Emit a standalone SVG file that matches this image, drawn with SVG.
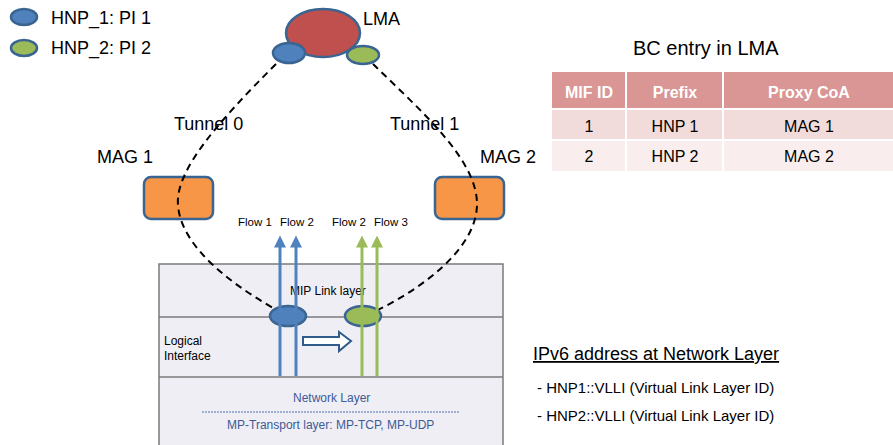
<svg xmlns="http://www.w3.org/2000/svg" width="893" height="445" viewBox="0 0 893 445">
<style>
text{font-family:"Liberation Sans",Arial,sans-serif;fill:#000}
.pi{stroke:#3a6592;stroke-width:2.5}
.blue{fill:#4f81bd}
.green{fill:#9bbb59}
.mag{fill:#f79646;stroke:#3a6592;stroke-width:2.5}
.tun{fill:none;stroke:#000;stroke-width:2;stroke-dasharray:7 5}
.lbl{font-size:18px}
.flow{font-size:11.5px}
.layer{fill:#f0eef5;stroke:#7a7a7a;stroke-width:1.5}
.ln{stroke:#7a7a7a;stroke-width:1.5}
.small{font-size:12px}
.blt{font-size:12px;fill:#3d5a95}
.th{font-size:16px;font-weight:bold;fill:#fff}
.td{font-size:16px}
</style>
<defs>
<marker id="ab" markerWidth="4" markerHeight="4" refX="2.5" refY="2" orient="auto" markerUnits="strokeWidth"><path d="M0,0 L4,2 L0,4 z" fill="#4f81bd"/></marker>
<marker id="ag" markerWidth="4" markerHeight="4" refX="2.5" refY="2" orient="auto" markerUnits="strokeWidth"><path d="M0,0 L4,2 L0,4 z" fill="#9bbb59"/></marker>
</defs>

<g id="legend">
<ellipse class="pi blue" cx="24" cy="17" rx="13" ry="8"/>
<text x="51" y="24" class="lbl" font-size="17">HNP_1: PI 1</text>
<ellipse class="pi green" cx="24" cy="48" rx="13" ry="8"/>
<text x="51" y="54" class="lbl" font-size="17">HNP_2: PI 2</text>
</g>

<g id="layers">
<rect class="layer" x="159" y="264" width="344" height="190"/>
<line class="ln" x1="159" y1="317" x2="503" y2="317"/>
<line class="ln" x1="159" y1="377" x2="503" y2="377"/>
<text x="290" y="295" class="small">MIP Link layer</text>
<text x="164" y="345" class="small">Logical</text>
<text x="164" y="360" class="small">Interface</text>
<text x="293" y="402" class="blt">Network Layer</text>
<line x1="202" y1="412" x2="460" y2="412" stroke="#4f6fae" stroke-width="1" stroke-dasharray="2 1"/>
<text x="227" y="429" class="blt">MP-Transport layer: MP-TCP, MP-UDP</text>
</g>

<g id="MAG1">
<rect class="mag" x="144" y="177" width="69" height="42" rx="7"/>
<text x="97" y="163" class="lbl">MAG 1</text>
</g>
<g id="MAG2">
<rect class="mag" x="435" y="177" width="69" height="42" rx="7"/>
<text x="480" y="163" class="lbl">MAG 2</text>
</g>

<g id="connectors">
<path class="tun" d="M276,64 C220,120 175,170 178,205 C181,250 240,290 282,313"/>
<path class="tun" d="M373,64 C420,110 478,160 477,205 C476,250 420,290 372,313"/>
</g>

<g id="LMA">
<ellipse cx="323" cy="33" rx="37" ry="24" fill="#c0504d" class="pi"/>
<ellipse class="pi blue" cx="289" cy="53" rx="16" ry="10"/>
<ellipse class="pi green" cx="363" cy="55" rx="16" ry="9"/>
<text x="363" y="25" class="lbl">LMA</text>
</g>

<g id="tunnels">
<text x="174" y="130" class="lbl">Tunnel 0</text>
<text x="390" y="130" class="lbl">Tunnel 1</text>
</g>

<g id="interfaces">
<ellipse class="pi blue" cx="288" cy="316" rx="18" ry="10"/>
<ellipse class="pi green" cx="363" cy="316" rx="18" ry="10"/>
</g>

<g id="flows">
<line x1="280" y1="376" x2="280" y2="240" stroke="#4f81bd" stroke-width="3" marker-end="url(#ab)"/>
<line x1="296" y1="376" x2="296" y2="240" stroke="#4f81bd" stroke-width="3" marker-end="url(#ab)"/>
<line x1="362" y1="376" x2="362" y2="240" stroke="#9bbb59" stroke-width="3" marker-end="url(#ag)"/>
<line x1="377" y1="376" x2="377" y2="240" stroke="#9bbb59" stroke-width="3" marker-end="url(#ag)"/>
<text x="238" y="226" class="flow">Flow 1</text>
<text x="280" y="226" class="flow">Flow 2</text>
<text x="332" y="226" class="flow">Flow 2</text>
<text x="374" y="226" class="flow">Flow 3</text>
<path d="M303,337 L339,337 L339,332 L351,341 L339,351 L339,345 L303,345 z" fill="#fff" stroke="#2f5c8a" stroke-width="2"/>
</g>

<g id="table">
<text x="633" y="55" font-size="20">BC entry in LMA</text>
<rect x="552" y="72" width="341" height="36" fill="#d99694"/>
<rect x="552" y="110" width="341" height="29" fill="#f2dcdb"/>
<rect x="552" y="141" width="341" height="30" fill="#f9eeed"/>
<line x1="626" y1="72" x2="626" y2="171" stroke="#fff" stroke-width="2"/>
<line x1="723" y1="72" x2="723" y2="171" stroke="#fff" stroke-width="2"/>
<text x="589" y="98" class="th" text-anchor="middle">MIF ID</text>
<text x="675" y="98" class="th" text-anchor="middle">Prefix</text>
<text x="809" y="98" class="th" text-anchor="middle">Proxy CoA</text>
<text x="589" y="132" class="td" text-anchor="middle">1</text>
<text x="675" y="132" class="td" text-anchor="middle">HNP 1</text>
<text x="809" y="132" class="td" text-anchor="middle">MAG 1</text>
<text x="589" y="162" class="td" text-anchor="middle">2</text>
<text x="675" y="162" class="td" text-anchor="middle">HNP 2</text>
<text x="809" y="162" class="td" text-anchor="middle">MAG 2</text>
</g>

<g id="ipv6">
<text x="533" y="360" font-size="18" text-decoration="underline">IPv6 address at Network Layer</text>
<text x="537" y="393" font-size="15">- HNP1::VLLI (Virtual Link Layer ID)</text>
<text x="537" y="421" font-size="15">- HNP2::VLLI (Virtual Link Layer ID)</text>
</g>
</svg>
